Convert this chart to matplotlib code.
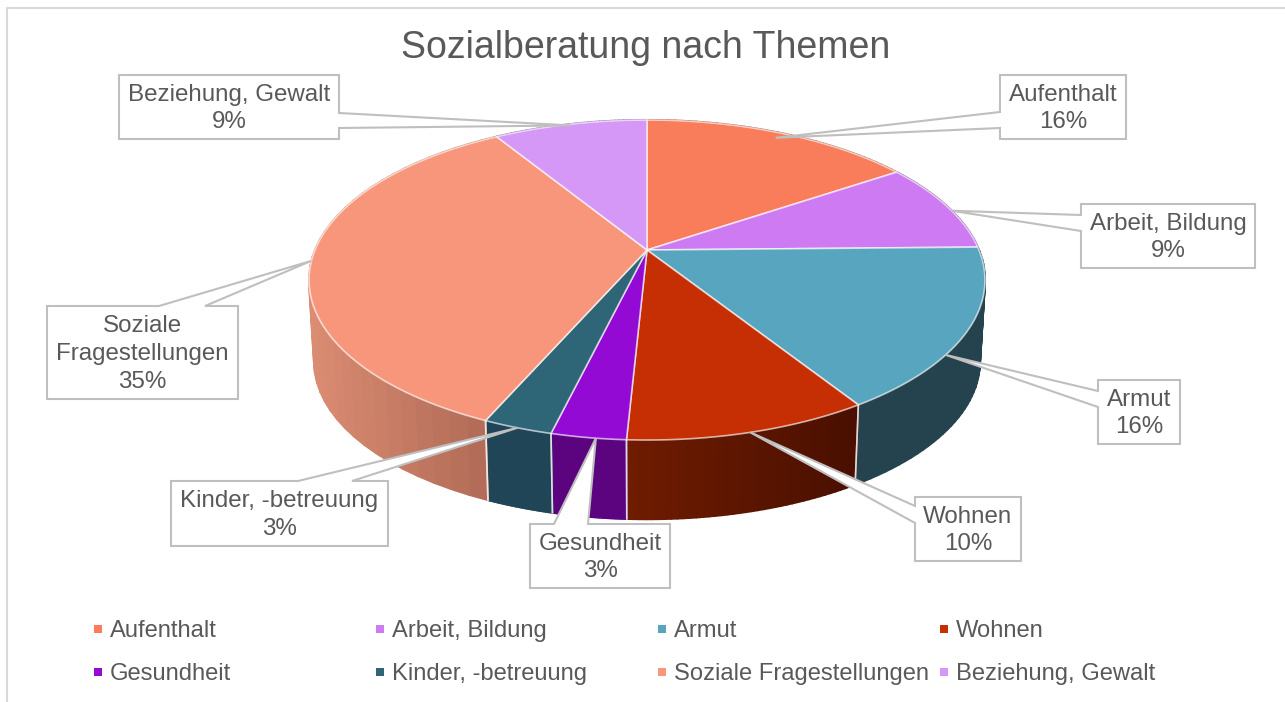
import numpy as np
import matplotlib
matplotlib.use("Agg")
import matplotlib.pyplot as plt
from matplotlib.collections import PolyCollection
from matplotlib.colors import to_rgb
from matplotlib.patches import Polygon, Rectangle

plt.rcParams['font.family'] = ['Liberation Sans', 'DejaVu Sans']

title = "Sozialberatung nach Themen"
themen = ["Aufenthalt", "Arbeit, Bildung", "Armut", "Wohnen", "Gesundheit",
          "Kinder, -betreuung", "Soziale Fragestellungen", "Beziehung, Gewalt"]
label_text = ["Aufenthalt", "Arbeit, Bildung", "Armut", "Wohnen", "Gesundheit",
              "Kinder, -betreuung", "Soziale\nFragestellungen", "Beziehung, Gewalt"]
anteile = [15.6, 9.1, 16.3, 9.8, 3.0, 2.8, 34.6, 8.8]

top_colors = ["#F97D5B", "#CE7BF3", "#58A5C0", "#C62E03", "#930AD4", "#2E6678", "#F8967B", "#D698F6"]
side_left = ["#A8533C", "#8A52A2", "#24434F", "#701C00", "#5C047F", "#1F4556", "#DB8D73", "#8F66A4"]
side_right = ["#A8533C", "#8A52A2", "#24434F", "#4A0F00", "#5C047F", "#1F4556", "#B06A55", "#8F66A4"]

# boxes: x0, y0, x1, y1, side of the callout, start and end of the opening on that side
boxes = [
    (1000, 75, 1126, 139, "left", 112, 128),
    (1081, 204, 1255, 268, "left", 215, 231),
    (1098, 380, 1180, 444, "left", 391, 407),
    (915, 497, 1021, 561, "left", 506, 523),
    (530, 524, 670, 588, "top", 554, 588),
    (171, 481, 388, 546, "top", 298, 352),
    (47, 306, 238, 399, "top", 159, 205),
    (119, 75, 339, 139, "right", 113, 128),
]
# where the callout tip sits along its slice, and how far out towards the rim
tip_frac = [0.5, 0.56, 0.65, 0.5, 0.4, 0.5, 0.5, 0.5]
tip_out = [0.96, 1.0, 1.0, 1.0, 1.0, 1.0, 1.0, 0.99]
legend_x = [98, 380, 662, 944]
legend_y = [629, 672]

# perspective of the pie, in pixels
CX, CY = 647, 250
K, A, B = 0.1875, 154.4, 332
DEPTH, SHRINK = 82, 0.985


def rim(theta, bottom=False):
    # theta clockwise from the top, in radians
    u, v = np.sin(theta), np.cos(theta)
    w = 1 + K * v
    dx, dy = B * u / w, -A * v / w
    if bottom:
        return CX + SHRINK * dx, CY + SHRINK * dy + DEPTH
    return CX + dx, CY + dy


fig = plt.figure(figsize=(12.85, 7.02), dpi=100)
ax = fig.add_axes([0, 0, 1, 1])
ax.set_xlim(0, 1285)
ax.set_ylim(702, 0)
ax.axis("off")

# chart frame
ax.plot([6.5, 6.5, 1285], [702, 8, 8], color="#D9D9D9", lw=1.5, zorder=1)

cum = np.cumsum([0] + anteile) / sum(anteile) * 2 * np.pi

# sides first, the top covers the far part
for i in range(len(anteile)):
    th = np.linspace(cum[i], cum[i + 1], 40)
    xt, yt = rim(th)
    xb, yb = rim(th, True)
    quads = []
    cols = []
    span = max(xt.max() - xt.min(), 1)
    c0, c1 = np.array(to_rgb(side_left[i])), np.array(to_rgb(side_right[i]))
    for j in range(len(th) - 1):
        quads.append([(xt[j], yt[j]), (xt[j + 1], yt[j + 1]), (xb[j + 1], yb[j + 1]), (xb[j], yb[j])])
        f = (xt[j] - xt.min()) / span
        cols.append(c0 + (c1 - c0) * f)
    ax.add_collection(PolyCollection(quads, facecolors=cols, edgecolors="face", linewidths=1.5, zorder=2))
    for t in (cum[i], cum[i + 1]):
        if np.cos(t) < -0.1:
            x0, y0 = rim(t)
            x1, y1 = rim(t, True)
            ax.plot([x0, x1], [y0, y1], color=(1, 1, 1, 0.6), lw=1.2, zorder=3)

# top face
for i in range(len(anteile)):
    th = np.linspace(cum[i], cum[i + 1], 120)
    xt, yt = rim(th)
    pts = np.vstack([[CX, CY], np.column_stack([xt, yt])])
    ax.add_patch(Polygon(pts, closed=True, facecolor=top_colors[i],
                         edgecolor=(1, 1, 1, 0.65), lw=1.2, joinstyle="round", zorder=4))

# callouts
for i, (x0, y0, x1, y1, side, a, b) in enumerate(boxes):
    rx, ry = rim(cum[i] + (cum[i + 1] - cum[i]) * tip_frac[i])
    tip = (CX + (rx - CX) * tip_out[i], CY + (ry - CY) * tip_out[i])
    if side == "left":
        pts = [(x0, y0), (x1, y0), (x1, y1), (x0, y1), (x0, b), tip, (x0, a)]
    elif side == "right":
        pts = [(x0, y0), (x1, y0), (x1, a), tip, (x1, b), (x1, y1), (x0, y1)]
    else:
        pts = [(x0, y0), (a, y0), tip, (b, y0), (x1, y0), (x1, y1), (x0, y1)]
    ax.add_patch(Polygon(pts, closed=True, facecolor="white", edgecolor="#BFBFBF",
                         lw=1.5, joinstyle="miter", zorder=5))
    ax.text((x0 + x1) / 2, (y0 + y1) / 2 + 1.5, f"{label_text[i]}\n{round(anteile[i])}%",
            ha="center", va="center", fontsize=17.4, color="#595959",
            linespacing=1.33, zorder=6)

ax.text(646, 48, title, ha="center", va="center", fontsize=27, color="#595959", zorder=6)

# legend
for i, name in enumerate(themen):
    lx = legend_x[i % 4]
    ly = legend_y[i // 4]
    ax.add_patch(Rectangle((lx - 4, ly - 4), 8, 8, facecolor=top_colors[i], edgecolor="none", zorder=6))
    ax.text(lx + 12, ly + 2, name, ha="left", va="center", fontsize=17.1, color="#595959", zorder=6)

fig.savefig("out.png", dpi=100)
